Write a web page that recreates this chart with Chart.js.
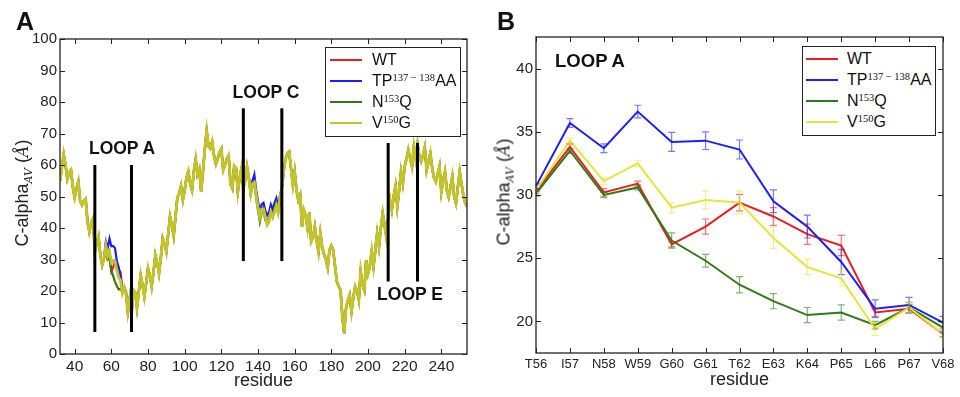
<!DOCTYPE html>
<html>
<head>
<meta charset="utf-8">
<title>C-alpha AV per residue</title>
<script src="https://cdn.jsdelivr.net/npm/chart.js@4.4.1/dist/chart.umd.min.js"></script>
<style>
    body { margin: 0; background: #fff; font-family: "Liberation Sans", Arial, sans-serif; color: #111; }
    #page { position: relative; width: 960px; height: 397px; overflow: hidden; }
    .panel { position: absolute; top: 0; width: 480px; height: 397px; }
    .tag { position: absolute; font-weight: bold; font-size: 25px; line-height: 25px; }
    .loop { position: absolute; font-weight: bold; font-size: 17.5px; line-height: 17.5px; white-space: nowrap; transform: translateX(-50%); }
    .ytitle { position: absolute; transform: translate(-50%, -50%) rotate(-90deg); white-space: nowrap; font-size: 18px; color: #222; }
    .ytitle sub { font-family: "DejaVu Serif", serif; font-style: italic; font-size: 11px; vertical-align: 0; position: relative; top: 4px; }
    .ytitle .ang { font-family: "DejaVu Serif", serif; font-style: italic; font-size: 16px; }
    .legend { position: absolute; border: 1px solid #222; background: #fff; }
    .legend .row { position: absolute; left: 0; right: 0; height: 16px; line-height: 16px; font-size: 16px; white-space: nowrap; }
    .legend .swatch { position: absolute; top: 7px; height: 0; border-top: 2px solid; }
    .legend .txt { position: absolute; top: 0; }
    .legend sup { font-family: "Liberation Serif", "DejaVu Serif", serif; font-size: 10.5px; vertical-align: 0; position: relative; top: -5px; }
</style>
</head>
<body>
<div id="page">
    <div class="panel" style="left:0"><canvas id="chartA" width="480" height="397"></canvas></div>
    <div class="panel" style="left:480px"><canvas id="chartB" width="480" height="397"></canvas></div>

    <div class="tag" style="left:16px; top:9px">A</div>
    <div class="tag" style="left:497px; top:9px">B</div>

    <div class="loop" style="left:122px; top:140px">LOOP A</div>
    <div class="loop" style="left:266px; top:84px">LOOP C</div>
    <div class="loop" style="left:410px; top:286px">LOOP E</div>
    <div class="loop" style="left:590px; top:52px; font-size:18.5px; line-height:18.5px">LOOP A</div>

    <div class="ytitle" style="left:22px; top:193px">C-alpha<sub>AV</sub> (<span class="ang">Å</span>)</div>
    <div class="ytitle" style="left:504px; top:192px">C-alpha<sub>AV</sub> (<span class="ang">Å</span>)</div>

    <div class="legend" id="legendA" style="left:325px; top:47px; width:134px; height:88px"></div>
    <div class="legend" id="legendB" style="left:802px; top:46px; width:132px; height:88px"></div>
</div>

<script>
/**
 * Data
 */

// Panel A: full profile, residues 32..254 (WT trace, the other series follow it outside the loops)
const FIRST_RESIDUE = 32;
const baseProfile = [
    55, 59, 63.4, 60, 55.6, 57.5, 58.4, 53, 49.7, 52.5,          // 32-41
    54.7, 48.5, 47.3, 48.5, 49.2, 42, 38.8, 41.5, 42.9, 32.5,    // 42-51
    35, 37.2, 31.5, 28.3, 30.3, 33.8, 30.2, 30.9, 26.1, 27.5,    // 52-61
    29.4, 28.3, 26.9, 26.0, 20.7, 21.0, 19.0, 13.4, 17.5, 12.2,  // 62-71
    20.3, 19.5, 14.6, 19.8, 25, 22, 18.2, 22.5, 27.2, 25,        // 72-81
    21.4, 26, 31.4, 29, 25.6, 30.5, 36.7, 35, 32.5, 38,          // 82-91
    43.6, 41, 37.5, 43.5, 49.5, 51, 53.3, 48.9, 52, 56,          // 92-101
    57.9, 54, 52, 58, 61.8, 57, 58.6, 51.5, 58, 65,              // 102-111
    70.9, 66, 65.3, 67.4, 63, 60.3, 62, 64, 65.1, 58.4,          // 112-121
    60, 62, 63, 54, 52.6, 59.7, 59, 51.5, 56, 58.9,              // 122-131
    52.6, 55, 59.4, 56, 51.5, 54, 55, 50.5, 47, 43.5,            // 132-141
    46.5, 46.5, 44, 42, 43, 45.5, 44, 45.5, 47.5, 45.5,          // 142-151
    49.5, 52.6, 58, 62, 63.7, 64.2, 59, 53.7, 57.9, 52,          // 152-161
    48.9, 50.5, 40.4, 45.7, 44, 40, 45, 35.7, 37, 40.4,          // 162-171
    36, 32.5, 38.3, 34, 31.7, 30, 27.5, 33, 34.4, 33,            // 172-181
    28, 23, 21.5, 20.3, 12, 6.6, 14.5, 17, 18.7, 13.5,           // 182-191
    18, 21.4, 20, 17.1, 26.1, 22, 20.3, 29.8, 25.6, 28,          // 192-201
    32.5, 27.7, 33, 38.3, 34.1, 40, 44.7, 41, 37.2, 43.6,        // 202-211
    48.9, 45.7, 50, 53.3, 46.8, 52, 57.9, 54.2, 59.5, 62,        // 212-221
    64.8, 62, 59.5, 65.8, 62.1, 66.7, 62.6, 61.1, 63, 65.6,      // 222-231
    58.4, 61, 63.7, 59, 56, 54.7, 57, 59.5, 51.5, 55,            // 232-241
    57.9, 52, 49.9, 53, 56.3, 50, 47.8, 53, 57.9, 54,            // 242-251
    50.5, 48, 46.8                                               // 252-254
];

// Loop A (residues 56..68), shared by both panels
const LOOP_A_START = 56;
const loopResidues = ['T56', 'I57', 'N58', 'W59', 'G60', 'G61', 'T62', 'E63', 'K64', 'P65', 'L66', 'P67', 'V68'];
const wtLoopA    = [30.3, 33.8, 30.2, 30.9, 26.1, 27.5, 29.4, 28.3, 26.9, 26.0, 20.7, 21.0, 19.0];
const tpLoopA    = [30.7, 35.7, 33.7, 36.6, 34.2, 34.3, 33.6, 29.5, 27.5, 24.7, 21.0, 21.3, 19.9];
const n153qLoopA = [30.1, 33.5, 30.0, 30.6, 26.4, 24.8, 22.9, 21.6, 20.5, 20.7, 19.7, 21.1, 19.5];
const v150gLoopA = [30.4, 34.3, 31.1, 32.5, 29.0, 29.6, 29.4, 26.6, 24.3, 23.4, 19.4, 21.1, 19.0];

// error bars (panel B)
const wtErr    = [0.2, 0.25, 0.3, 0.2, 0.2, 0.6, 0.65, 0.7, 0.8, 0.8, 0.3, 0.35, 0.2];
const tpErr    = [0.2, 0.35, 0.35, 0.5, 0.75, 0.7, 0.75, 0.9, 0.9, 1.0, 0.7, 0.6, 0.5];
const n153qErr = [0.2, 0.2, 0.2, 0.2, 0.6, 0.5, 0.65, 0.6, 0.6, 0.6, 0.3, 0.4, 0.4];
const v150gErr = [0.2, 0.2, 0.25, 0.25, 0.4, 0.7, 0.9, 0.85, 0.6, 0.6, 0.5, 0.4, 0.3];

// Loop C (residues 136..152) where the mutants part from WT
const LOOP_C_START = 136;
const tpLoopC    = [52.5, 55, 57, 52, 48.5, 45.5, 47.5, 48, 45.5, 44, 45, 47.5, 46, 48, 49.5, 47, 50.5];
const n153qLoopC = [50.5, 53.5, 54, 49.5, 45.5, 42, 45, 45.5, 42.5, 42.5, 42.5, 45, 43.5, 46.5, 48, 45, 49];
const v150gLoopC = [51.2, 54, 54.5, 50.5, 46.5, 43.5, 46, 46, 43.5, 41, 42, 45, 43.5, 45, 47, 45, 49.5];

// tick labels
const residueTicksA = [40, 60, 80, 100, 120, 140, 160, 180, 200, 220, 240];
const valueTicksA = [0, 10, 20, 30, 40, 50, 60, 70, 80, 90, 100];
const valueTicksB = [20, 25, 30, 35, 40];

// loop boundary markers in panel A
const loopEdges    = [51, 71, 132, 153, 211, 227];
const loopEdgeLow  = [7, 7, 29.5, 29.5, 23, 23];
const loopEdgeHigh = [60, 60, 78, 78, 67, 67];

const seriesNames = ['WT', 'TP137-138AA', 'N153Q', 'V150G'];
const legendHtml = ['WT', 'TP<sup>137 \u2212 138</sup>AA', 'N<sup>153</sup>Q', 'V<sup>150</sup>G'];
const colorsA = ['#ee1c1c', '#1c1cf5', '#2f7a16', '#c3c32a'];
const colorsB = ['#e81e1e', '#1e1ef5', '#2f7a16', '#e4e43c'];
const widthsA = [2.2, 2.2, 2.2, 3];

Chart.defaults.font.family = '"Liberation Sans", Arial, sans-serif';
Chart.defaults.color = '#222';

/**
 * Build a panel A series: WT profile with the series' own loop values
 */
function buildProfile(loopA, loopC) {
    const values = baseProfile.slice();
    loopA.forEach((v, i) => { values[LOOP_A_START - FIRST_RESIDUE + i] = v; });
    if (loopC) {
        loopC.forEach((v, i) => { values[LOOP_C_START - FIRST_RESIDUE + i] = v; });
    }
    return values.map((v, i) => ({ x: FIRST_RESIDUE + i, y: v }));
}

const profilesA = [
    buildProfile(wtLoopA, null),
    buildProfile(tpLoopA, tpLoopC),
    buildProfile(n153qLoopA, n153qLoopC),
    buildProfile(v150gLoopA, v150gLoopC)
];

/**
 * Box around the plot with inward ticks on all four sides
 */
const frameTicks = {
    id: 'frameTicks',
    afterDraw(chart) {
        const { ctx, chartArea: a, scales: { x, y } } = chart;
        ctx.save();
        ctx.strokeStyle = '#222';
        ctx.lineWidth = 1;
        ctx.beginPath();
        x.ticks.forEach((t, i) => {
            const px = Math.round(x.getPixelForTick(i)) + 0.5;
            ctx.moveTo(px, a.bottom); ctx.lineTo(px, a.bottom - 5);
            ctx.moveTo(px, a.top); ctx.lineTo(px, a.top + 5);
        });
        y.ticks.forEach((t, i) => {
            const py = Math.round(y.getPixelForTick(i)) + 0.5;
            ctx.moveTo(a.left, py); ctx.lineTo(a.left + 5, py);
            ctx.moveTo(a.right, py); ctx.lineTo(a.right - 5, py);
        });
        ctx.stroke();
        ctx.lineWidth = 1.3;
        ctx.strokeRect(a.left, a.top, a.right - a.left, a.bottom - a.top);
        ctx.restore();
    }
};

/**
 * Black vertical markers at the loop boundaries (panel A)
 */
const loopEdgeLines = {
    id: 'loopEdgeLines',
    afterDatasetsDraw(chart) {
        const { ctx, scales: { x, y } } = chart;
        ctx.save();
        ctx.strokeStyle = '#000';
        ctx.lineWidth = 3;
        loopEdges.forEach((r, i) => {
            const px = x.getPixelForValue(r);
            ctx.beginPath();
            ctx.moveTo(px, y.getPixelForValue(loopEdgeLow[i]));
            ctx.lineTo(px, y.getPixelForValue(loopEdgeHigh[i]));
            ctx.stroke();
        });
        ctx.restore();
    }
};

/**
 * Error bars with caps (panel B)
 */
const errorBars = {
    id: 'errorBars',
    afterDatasetsDraw(chart) {
        const { ctx, chartArea: a, scales: { x, y } } = chart;
        ctx.save();
        ctx.beginPath();
        ctx.rect(a.left, a.top, a.right - a.left, a.bottom - a.top);
        ctx.clip();
        ctx.lineWidth = 1.2;
        ctx.globalAlpha = 0.6;
        chart.data.datasets.forEach(ds => {
            ctx.strokeStyle = ds.borderColor;
            ds.data.forEach((v, i) => {
                const e = ds.errors[i];
                const px = x.getPixelForValue(i);
                const top = y.getPixelForValue(v + e);
                const bot = y.getPixelForValue(v - e);
                ctx.beginPath();
                ctx.moveTo(px, top); ctx.lineTo(px, bot);
                ctx.moveTo(px - 3.5, top); ctx.lineTo(px + 3.5, top);
                ctx.moveTo(px - 3.5, bot); ctx.lineTo(px + 3.5, bot);
                ctx.stroke();
            });
        });
        ctx.restore();
    }
};

function fixedTicks(list) {
    return scale => { scale.ticks = list.map(v => ({ value: v })); };
}

// Panel A
new Chart(document.getElementById('chartA'), {
    type: 'line',
    data: {
        datasets: seriesNames.map((name, i) => ({
            label: name,
            data: profilesA[i],
            borderColor: colorsA[i],
            borderWidth: widthsA[i],
            pointRadius: 0,
            tension: 0,
            order: 4 - i
        }))
    },
    options: {
        responsive: false,
        animation: false,
        devicePixelRatio: 1,
        layout: { padding: { top: 39, right: 13, left: 0, bottom: 0 } },
        plugins: { legend: { display: false }, tooltip: { enabled: false } },
        scales: {
            x: {
                type: 'linear',
                min: 32,
                max: 254,
                afterBuildTicks: fixedTicks(residueTicksA),
                afterFit: s => { s.height = 43; },
                grid: { display: false, drawTicks: false },
                border: { display: false },
                ticks: { font: { size: 15.5 }, padding: 3, maxRotation: 0 },
                title: { display: true, text: 'residue', font: { size: 18 }, padding: { top: 0, bottom: 5 } }
            },
            y: {
                min: 0,
                max: 100,
                afterBuildTicks: fixedTicks(valueTicksA),
                afterFit: s => { s.width = 60; },
                grid: { display: false, drawTicks: false },
                border: { display: false },
                ticks: { font: { size: 15 }, padding: 3 }
            }
        }
    },
    plugins: [loopEdgeLines, frameTicks]
});

// Panel B
const loopSeries = [wtLoopA, tpLoopA, n153qLoopA, v150gLoopA];
const loopErrors = [wtErr, tpErr, n153qErr, v150gErr];

new Chart(document.getElementById('chartB'), {
    type: 'line',
    data: {
        labels: loopResidues,
        datasets: seriesNames.map((name, i) => ({
            label: name,
            data: loopSeries[i],
            errors: loopErrors[i],
            borderColor: colorsB[i],
            borderWidth: 2,
            pointRadius: 0,
            tension: 0,
            order: 4 - i
        }))
    },
    options: {
        responsive: false,
        animation: false,
        devicePixelRatio: 1,
        layout: { padding: { top: 37, right: 17, left: 0, bottom: 0 } },
        plugins: { legend: { display: false }, tooltip: { enabled: false } },
        scales: {
            x: {
                type: 'category',
                offset: false,
                afterFit: s => { s.height = 44; },
                grid: { display: false, offset: false, drawTicks: false },
                border: { display: false },
                ticks: { font: { size: 13 }, padding: 4, autoSkip: false, maxRotation: 0 },
                title: { display: true, text: 'residue', font: { size: 18 }, padding: { top: 0, bottom: 6 } }
            },
            y: {
                min: 17.5,
                max: 42.5,
                afterBuildTicks: fixedTicks(valueTicksB),
                afterFit: s => { s.width = 56; },
                grid: { display: false, drawTicks: false },
                border: { display: false },
                ticks: { font: { size: 15 }, padding: 3 }
            }
        }
    },
    plugins: [errorBars, frameTicks]
});

/**
 * Legend boxes (HTML so the superscripts render)
 */
const legendRowCenters = [11.5, 32.5, 53.5, 75];

function buildLegend(boxId, colors, swatchLeft, textLeft) {
    const box = document.getElementById(boxId);
    legendHtml.forEach((html, i) => {
        const row = document.createElement('div');
        row.className = 'row';
        row.style.top = (legendRowCenters[i] - 8) + 'px';
        row.innerHTML = `<span class="swatch" style="left:${swatchLeft}px; width:32px; border-color:${colors[i]}"></span>` +
            `<span class="txt" style="left:${textLeft}px">${html}</span>`;
        box.appendChild(row);
    });
}

buildLegend('legendA', colorsA, 4, 46);
buildLegend('legendB', colorsB, 3, 44);
</script>
</body>
</html>
